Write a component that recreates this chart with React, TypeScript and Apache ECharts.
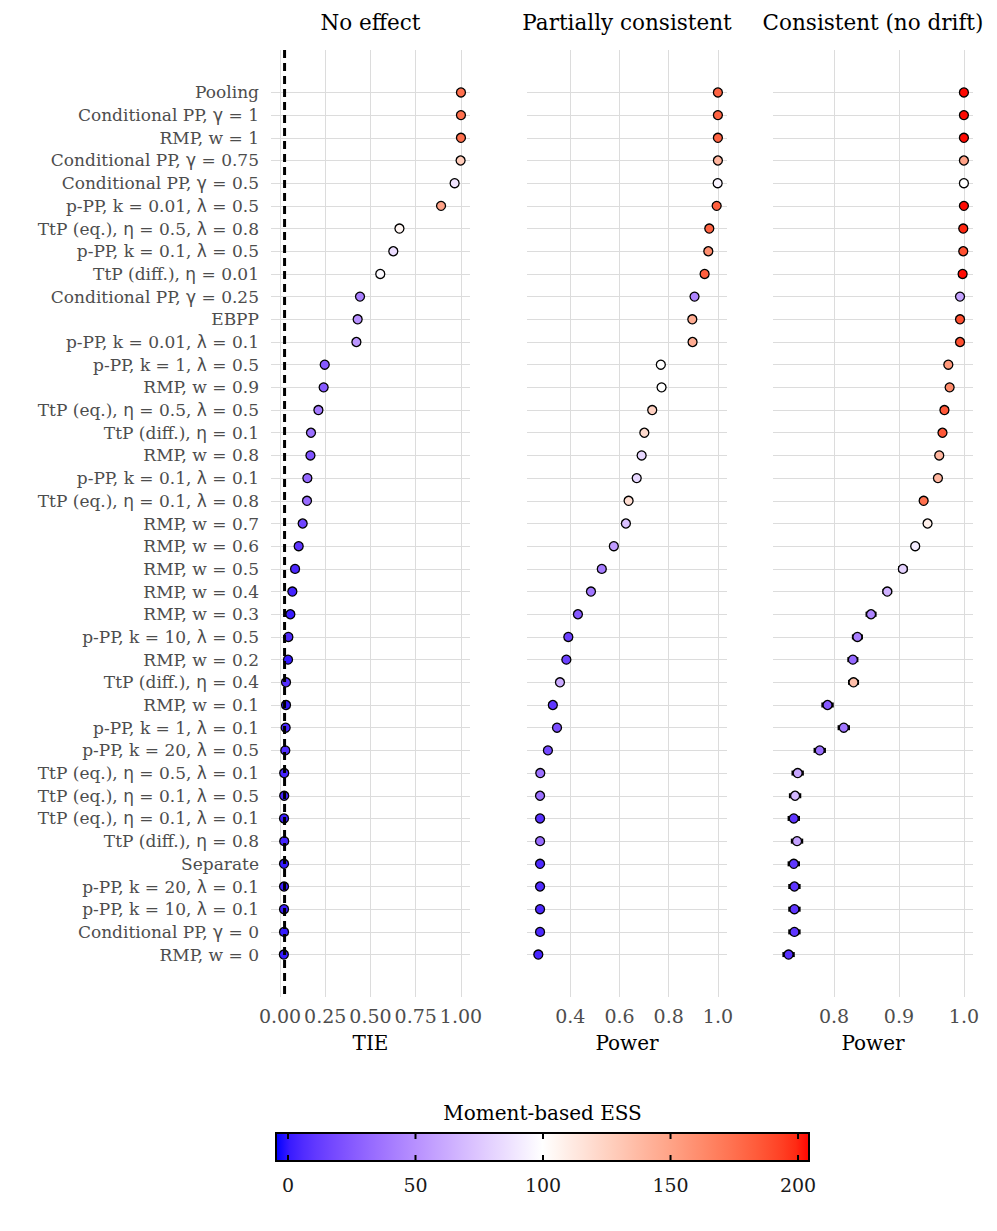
import React, { useEffect, useRef } from 'react';
import * as echarts from 'echarts';

const methods = [
  'Pooling',
  'Conditional PP, γ = 1',
  'RMP, w = 1',
  'Conditional PP, γ = 0.75',
  'Conditional PP, γ = 0.5',
  'p-PP, k = 0.01, λ = 0.5',
  'TtP (eq.), η = 0.5, λ = 0.8',
  'p-PP, k = 0.1, λ = 0.5',
  'TtP (diff.), η = 0.01',
  'Conditional PP, γ = 0.25',
  'EBPP',
  'p-PP, k = 0.01, λ = 0.1',
  'p-PP, k = 1, λ = 0.5',
  'RMP, w = 0.9',
  'TtP (eq.), η = 0.5, λ = 0.5',
  'TtP (diff.), η = 0.1',
  'RMP, w = 0.8',
  'p-PP, k = 0.1, λ = 0.1',
  'TtP (eq.), η = 0.1, λ = 0.8',
  'RMP, w = 0.7',
  'RMP, w = 0.6',
  'RMP, w = 0.5',
  'RMP, w = 0.4',
  'RMP, w = 0.3',
  'p-PP, k = 10, λ = 0.5',
  'RMP, w = 0.2',
  'TtP (diff.), η = 0.4',
  'RMP, w = 0.1',
  'p-PP, k = 1, λ = 0.1',
  'p-PP, k = 20, λ = 0.5',
  'TtP (eq.), η = 0.5, λ = 0.1',
  'TtP (eq.), η = 0.1, λ = 0.5',
  'TtP (eq.), η = 0.1, λ = 0.1',
  'TtP (diff.), η = 0.8',
  'Separate',
  'p-PP, k = 20, λ = 0.1',
  'p-PP, k = 10, λ = 0.1',
  'Conditional PP, γ = 0',
  'RMP, w = 0',
];

// Panel 1: No effect (TIE)
const tieValues = [
  1.0, 1.0, 1.0, 0.998, 0.965, 0.89, 0.66, 0.626, 0.554, 0.442,
  0.429, 0.422, 0.247, 0.241, 0.212, 0.171, 0.168, 0.151, 0.149, 0.125,
  0.103, 0.083, 0.068, 0.057, 0.046, 0.044, 0.033, 0.033, 0.031, 0.029,
  0.023, 0.023, 0.022, 0.023, 0.022, 0.022, 0.022, 0.022, 0.021,
];
const tieEss = [
  175, 175, 175, 128, 88, 150, 105, 85, 98, 42,
  50, 53, 25, 25, 40, 35, 22, 32, 33, 16,
  10, 5, 3, 1, 6, 0, 7, 0, 4, 6,
  3, 3, 1, 3, 0, 1, 1, 0, 0,
];

// Panel 2: Partially consistent (Power)
const partialPower = [
  1.0, 1.0, 1.0, 1.0, 0.999, 0.995, 0.965, 0.961, 0.946, 0.905,
  0.896, 0.897, 0.768, 0.771, 0.733, 0.701, 0.69, 0.67, 0.637, 0.626,
  0.577, 0.528, 0.484, 0.431, 0.392, 0.384, 0.358, 0.329, 0.346, 0.309,
  0.278, 0.277, 0.277, 0.277, 0.277, 0.277, 0.277, 0.277, 0.27,
];
const partialEss = [
  180, 180, 180, 140, 95, 182, 180, 160, 182, 45,
  145, 145, 100, 100, 125, 120, 82, 82, 118, 72,
  55, 40, 38, 25, 15, 15, 62, 10, 20, 18,
  35, 35, 8, 33, 5, 6, 5, 5, 4,
];

// Panel 3: Consistent (no drift) (Power)
const consistentPower = [
  1.0, 1.0, 1.0, 1.0, 1.0, 1.0, 0.999, 0.999, 0.998, 0.994,
  0.994, 0.994, 0.976, 0.978, 0.97, 0.967, 0.962, 0.96, 0.938, 0.944,
  0.925, 0.906, 0.882, 0.857, 0.836, 0.829, 0.83, 0.79, 0.815, 0.778,
  0.744, 0.74, 0.738, 0.743, 0.738, 0.739, 0.739, 0.739, 0.73,
];
const consistentErr = [
  0.001, 0.001, 0.001, 0.001, 0.001, 0.001, 0.001, 0.001, 0.002, 0.002,
  0.002, 0.002, 0.003, 0.003, 0.003, 0.003, 0.004, 0.004, 0.005, 0.005,
  0.005, 0.006, 0.006, 0.007, 0.007, 0.007, 0.007, 0.008, 0.008, 0.008,
  0.008, 0.008, 0.008, 0.008, 0.008, 0.008, 0.008, 0.008, 0.008,
];
const consistentEss = [
  204, 204, 204, 150, 100, 204, 200, 188, 204, 58,
  188, 188, 155, 162, 185, 185, 140, 140, 175, 108,
  92, 80, 65, 45, 42, 32, 135, 25, 38, 35,
  60, 68, 10, 58, 10, 10, 10, 10, 8,
];

const panelTitles = ['No effect', 'Partially consistent', 'Consistent (no drift)'];
const axisNames = ['TIE', 'Power', 'Power'];
const tieTicks = [0, 0.25, 0.5, 0.75, 1.0];
const partialTicks = [0.4, 0.6, 0.8, 1.0];
const consistentTicks = [0.8, 0.9, 1.0];
const essTicks = [0, 50, 100, 150, 200];
const essLimits = [-4.7, 204.3];
const essMid = 100;
const nominalAlpha = 0.025;
const colorbarTitle = 'Moment-based ESS';

// ---------- colour scale (Lab interpolation like ggplot's gradient2) ----------
const XN = 0.95047, YN = 1.0, ZN = 1.08883;
const EPS = 216 / 24389, KAP = 24389 / 27;
const toLin = (c: number) => { c /= 255; return c <= 0.04045 ? c / 12.92 : Math.pow((c + 0.055) / 1.055, 2.4); };
const fromLin = (c: number) => {
  const v = c <= 0.0031308 ? 12.92 * c : 1.055 * Math.pow(c, 1 / 2.4) - 0.055;
  return Math.round(Math.max(0, Math.min(1, v)) * 255);
};
const fLab = (t: number) => (t > EPS ? Math.cbrt(t) : (KAP * t + 16) / 116);
const fInv = (t: number) => { const t3 = t * t * t; return t3 > EPS ? t3 : (116 * t - 16) / KAP; };
function rgbToLab(rgb: number[]) {
  const R = toLin(rgb[0]), G = toLin(rgb[1]), B = toLin(rgb[2]);
  const X = 0.4124564 * R + 0.3575761 * G + 0.1804375 * B;
  const Y = 0.2126729 * R + 0.7151522 * G + 0.072175 * B;
  const Z = 0.0193339 * R + 0.119192 * G + 0.9503041 * B;
  const fx = fLab(X / XN), fy = fLab(Y / YN), fz = fLab(Z / ZN);
  return [116 * fy - 16, 500 * (fx - fy), 200 * (fy - fz)];
}
function labToRgb(lab: number[]) {
  const fy = (lab[0] + 16) / 116, fx = fy + lab[1] / 500, fz = fy - lab[2] / 200;
  const X = XN * fInv(fx), Y = YN * fInv(fy), Z = ZN * fInv(fz);
  const R = 3.2404542 * X - 1.5371385 * Y - 0.4985314 * Z;
  const G = -0.969266 * X + 1.8760108 * Y + 0.041556 * Z;
  const B = 0.0556434 * X - 0.2040259 * Y + 1.0572252 * Z;
  return `rgb(${fromLin(R)},${fromLin(G)},${fromLin(B)})`;
}
const labLow = rgbToLab([0, 0, 255]);
const labMid = rgbToLab([255, 255, 255]);
const labHigh = rgbToLab([255, 0, 0]);
function essColor(v: number) {
  const span = Math.max(Math.abs(essLimits[0] - essMid), Math.abs(essLimits[1] - essMid));
  let t = (v - essMid) / span / 2 + 0.5;
  t = Math.max(0, Math.min(1, t));
  let a: number[], b: number[], s: number;
  if (t < 0.5) { a = labLow; b = labMid; s = t / 0.5; } else { a = labMid; b = labHigh; s = (t - 0.5) / 0.5; }
  return labToRgb([a[0] + (b[0] - a[0]) * s, a[1] + (b[1] - a[1]) * s, a[2] + (b[2] - a[2]) * s]);
}

const SERIF = 'DejaVu Serif';
const GREY = '#4d4d4d';
const GRID_COLOR = '#dcdcdc';
const rowIdx = methods.map((_, i) => i + 1);
const Y_MIN = 1 - 1.87;
const Y_MAX = methods.length + 1.87;

const richLabel = (s: string) => s.replace(/([γλη])/g, '{g|$1}');

export default function App() {
  const ref = useRef<HTMLDivElement>(null);
  useEffect(() => {
    if (!ref.current) return;
    const chart = echarts.init(ref.current, undefined, { renderer: 'svg' });

    const grids = [
      { left: 271, top: 50, width: 199, height: 947 },
      { left: 527, top: 50, width: 200, height: 947 },
      { left: 773, top: 50, width: 200, height: 947 },
      { left: 276, top: 1133, width: 533, height: 28 },
    ];
    const xRanges = [
      [-0.05, 1.05],
      [0.224, 1.037],
      [0.706, 1.014],
    ];
    const xTicks = [tieTicks, partialTicks, consistentTicks];
    const xDigits = [2, 1, 1];

    const xAxes: any[] = [0, 1, 2].map((i) => ({
      type: 'value',
      gridIndex: i,
      min: xRanges[i][0],
      max: xRanges[i][1],
      name: axisNames[i],
      nameLocation: 'middle',
      nameGap: 36,
      nameTextStyle: { fontFamily: SERIF, fontSize: 20, color: '#000' },
      axisLine: { show: false },
      axisTick: { show: false, customValues: xTicks[i] },
      axisLabel: {
        customValues: xTicks[i],
        formatter: (v: number) => v.toFixed(xDigits[i]),
        fontFamily: SERIF,
        fontSize: 19,
        color: GREY,
        margin: 9,
      },
      splitLine: { show: true, lineStyle: { color: GRID_COLOR, width: 1 } },
    }));
    xAxes.push({
      type: 'value',
      gridIndex: 3,
      min: essLimits[0],
      max: essLimits[1],
      axisLine: { show: false },
      axisTick: { show: false, customValues: essTicks },
      axisLabel: {
        customValues: essTicks,
        fontFamily: SERIF,
        fontSize: 19,
        color: '#1a1a1a',
        margin: 14,
      },
      splitLine: { show: false },
    });

    const yAxes: any[] = [0, 1, 2].map((i) => ({
      type: 'value',
      gridIndex: i,
      inverse: true,
      min: Y_MIN,
      max: Y_MAX,
      axisLine: { show: false },
      axisTick: { show: false, customValues: rowIdx },
      axisLabel: i === 0
        ? {
            customValues: rowIdx,
            formatter: (v: number) => richLabel(methods[Math.round(v) - 1] || ''),
            fontFamily: SERIF,
            fontSize: 17,
            color: GREY,
            margin: 12,
            rich: { g: { fontFamily: 'DejaVu Sans', fontSize: 17, color: GREY } },
          }
        : { show: false },
      splitLine: { show: true, lineStyle: { color: GRID_COLOR, width: 1 } },
    }));
    yAxes.push({ type: 'value', gridIndex: 3, min: 0, max: 1, show: false });

    const pointStyle = {
      color: (p: any) => essColor(p.data[2]),
      borderColor: '#000',
      borderWidth: 1.3,
      opacity: 1,
    };
    const mkScatter = (idx: number, xs: number[], ess: number[]) => ({
      type: 'scatter',
      xAxisIndex: idx,
      yAxisIndex: idx,
      symbol: 'circle',
      symbolSize: 9,
      data: xs.map((x, i) => [x, i + 1, ess[i]]),
      itemStyle: pointStyle,
      z: 3,
    });

    const gradStops: any[] = [];
    for (let k = 0; k <= 40; k++) {
      const o = k / 40;
      gradStops.push({ offset: o, color: essColor(essLimits[0] + o * (essLimits[1] - essLimits[0])) });
    }

    const series: any[] = [
      mkScatter(0, tieValues, tieEss),
      mkScatter(1, partialPower, partialEss),
      {
        type: 'custom',
        xAxisIndex: 2,
        yAxisIndex: 2,
        z: 2,
        data: consistentPower.map((p, i) => [p - consistentErr[i], p + consistentErr[i], i + 1]),
        renderItem: (params: any, api: any) => {
          const a = api.coord([api.value(0), api.value(2)]);
          const b = api.coord([api.value(1), api.value(2)]);
          const h = 2.5;
          const st = { stroke: '#000', lineWidth: 2 };
          return {
            type: 'group',
            children: [
              { type: 'line', shape: { x1: a[0], y1: a[1], x2: b[0], y2: b[1] }, style: st },
              { type: 'line', shape: { x1: a[0], y1: a[1] - h, x2: a[0], y2: a[1] + h }, style: st },
              { type: 'line', shape: { x1: b[0], y1: b[1] - h, x2: b[0], y2: b[1] + h }, style: st },
            ],
          };
        },
      },
      mkScatter(2, consistentPower, consistentEss),
      {
        type: 'line',
        xAxisIndex: 0,
        yAxisIndex: 0,
        data: [[nominalAlpha, Y_MIN], [nominalAlpha, Y_MAX]],
        symbol: 'none',
        lineStyle: { color: '#000', width: 3, type: [8, 5] },
        z: 5,
        silent: true,
      },
      {
        type: 'custom',
        xAxisIndex: 3,
        yAxisIndex: 3,
        z: 2,
        data: [[essLimits[0], essLimits[1]]],
        renderItem: (params: any, api: any) => {
          const p0 = api.coord([api.value(0), 0]);
          const p1 = api.coord([api.value(1), 1]);
          return {
            type: 'rect',
            shape: { x: p0[0], y: p1[1], width: p1[0] - p0[0], height: p0[1] - p1[1] },
            style: {
              fill: new echarts.graphic.LinearGradient(0, 0, 1, 0, gradStops),
              stroke: '#000',
              lineWidth: 2,
            },
          };
        },
      },
      {
        type: 'custom',
        xAxisIndex: 3,
        yAxisIndex: 3,
        z: 3,
        data: essTicks.map((t) => [t]),
        renderItem: (params: any, api: any) => {
          const top = api.coord([api.value(0), 1]);
          const bot = api.coord([api.value(0), 0]);
          const len = 6;
          const st = { stroke: '#000', lineWidth: 2 };
          return {
            type: 'group',
            children: [
              { type: 'line', shape: { x1: top[0], y1: top[1], x2: top[0], y2: top[1] + len }, style: st },
              { type: 'line', shape: { x1: bot[0], y1: bot[1] - len, x2: bot[0], y2: bot[1] }, style: st },
            ],
          };
        },
      },
    ];

    const centers = [0, 1, 2].map((i) => grids[i].left + grids[i].width / 2);
    const graphic: any[] = panelTitles.map((t, i) => ({
      type: 'text',
      x: centers[i],
      y: 22,
      style: { text: t, fontFamily: SERIF, fontSize: 21.5, fill: '#000', textAlign: 'center', textVerticalAlign: 'middle' },
    }));
    graphic.push({
      type: 'text',
      x: grids[3].left + grids[3].width / 2,
      y: 1113,
      style: { text: colorbarTitle, fontFamily: SERIF, fontSize: 20, fill: '#000', textAlign: 'center', textVerticalAlign: 'middle' },
    });

    chart.setOption({
      animation: false,
      backgroundColor: '#fff',
      textStyle: { fontFamily: SERIF },
      grid: grids.map((g) => ({ ...g, containLabel: false, outerBoundsMode: 'none' })),
      xAxis: xAxes,
      yAxis: yAxes,
      series,
      graphic,
    });
    return () => chart.dispose();
  }, []);
  return (
    <div
      ref={ref}
      style={{ position: 'absolute', left: 0, top: 0, width: 997, height: 1231 }}
    />
  );
}
